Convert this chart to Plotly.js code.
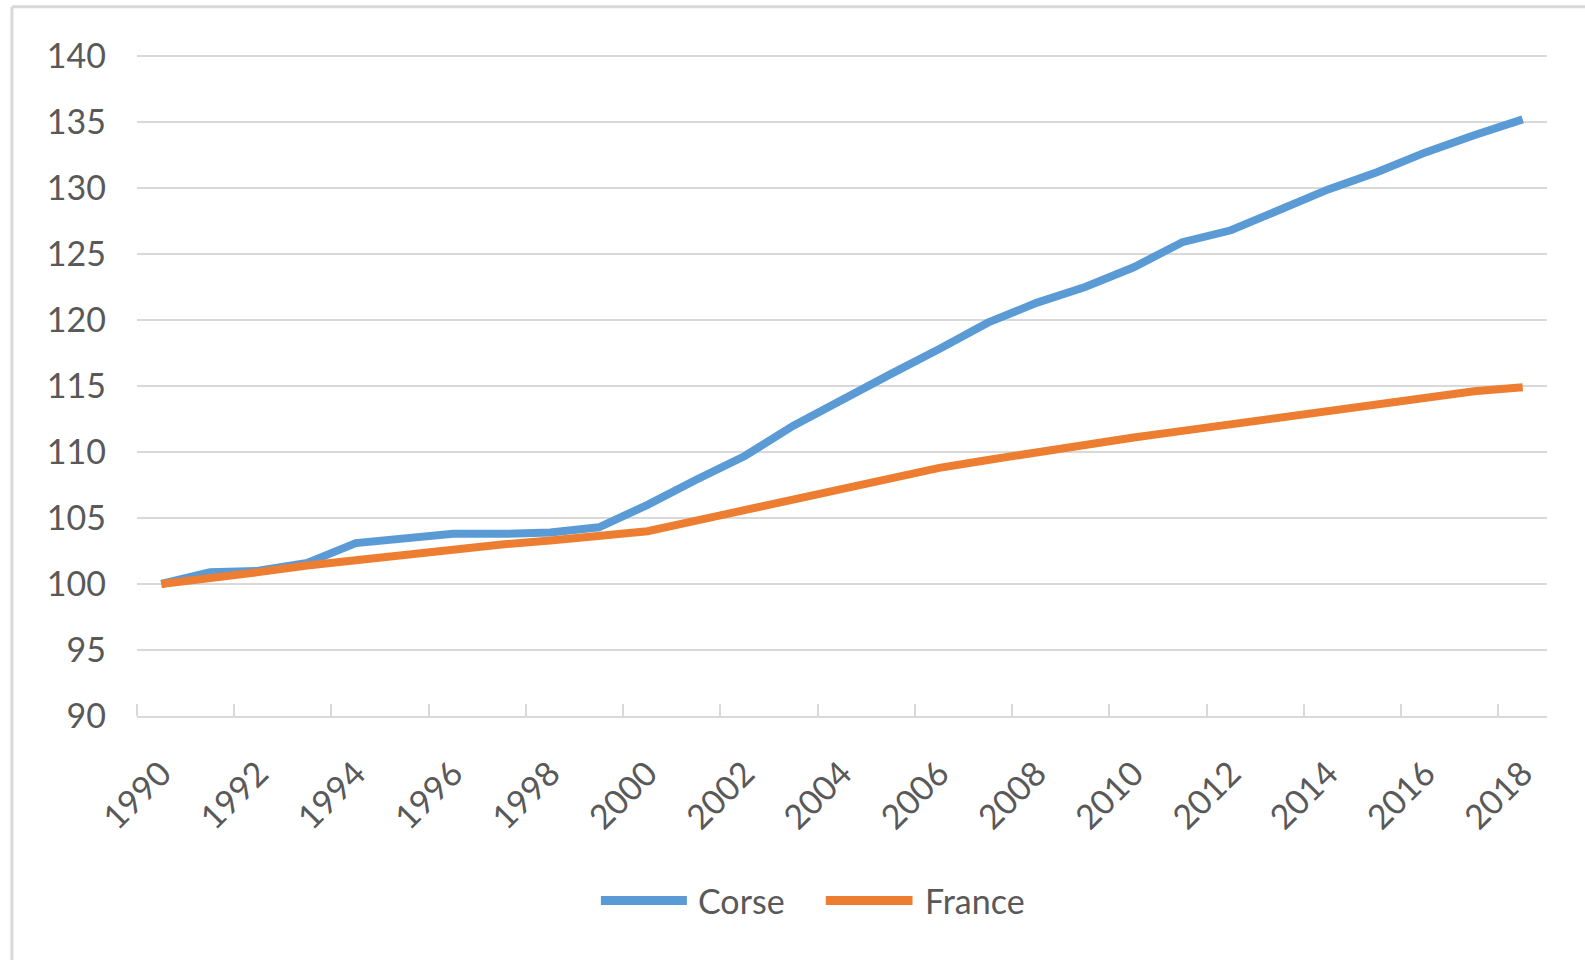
<!DOCTYPE html>
<html>
<head>
<meta charset="utf-8">
<script src="https://cdn.plot.ly/plotly-3.0.1.min.js"></script>
<style>
  html, body { margin: 0; padding: 0; background: #ffffff; }
  #chart { width: 1585px; height: 960px; }
</style>
</head>
<body>
<div id="chart"></div>
<script>
// ---- data ----
const years = [1990, 1991, 1992, 1993, 1994, 1995, 1996, 1997, 1998, 1999,
               2000, 2001, 2002, 2003, 2004, 2005, 2006, 2007, 2008, 2009,
               2010, 2011, 2012, 2013, 2014, 2015, 2016, 2017, 2018];
const corse = [100.0, 100.9, 101.0, 101.6, 103.1, 103.5, 103.8, 103.8, 103.9, 104.3,
               106.0, 107.9, 109.7, 112.0, 114.0, 115.9, 117.8, 119.8, 121.3, 122.5,
               124.0, 125.9, 126.8, 128.3, 129.9, 131.2, 132.7, 134.0, 135.2];
const france = [100.0, 100.4, 100.9, 101.4, 101.8, 102.3, 102.7, 103.0, 103.3, 103.6,
                104.0, 104.8, 105.6, 106.3, 107.1, 108.0, 108.8, 109.4, 110.0, 110.5,
                111.1, 111.6, 112.1, 112.6, 113.1, 113.6, 114.1, 114.6, 114.9];
const seriesNames = ["Corse", "France"];
const yTicks = [90, 95, 100, 105, 110, 115, 120, 125, 130, 135, 140];
const xTickYears = [1990, 1992, 1994, 1996, 1998, 2000, 2002, 2004, 2006, 2008,
                    2010, 2012, 2014, 2016, 2018];

const BLUE = "#5B9BD5";
const ORANGE = "#ED7D31";
const GRID = "#d9d9d9";
const TEXT = "#595959";
const FONT = "Lato, 'Open Sans', sans-serif";

const traces = [
  { x: years, y: corse, name: seriesNames[0], type: "scatter", mode: "lines",
    line: { color: BLUE, width: 8 }, showlegend: false, hoverinfo: "x+y+name" },
  { x: years, y: france, name: seriesNames[1], type: "scatter", mode: "lines",
    line: { color: ORANGE, width: 8 }, showlegend: false, hoverinfo: "x+y+name" }
];

// custom legend (long Excel-style line keys)
const legY = -0.279;
const shapes = [
  // outer chart border (left and top)
  { type: "line", xref: "paper", yref: "paper", x0: -0.0887, x1: -0.0887, y0: 1.073, y1: -0.5,
    line: { color: GRID, width: 3 } },
  { type: "line", xref: "paper", yref: "paper", x0: -0.0887, x1: 1.2, y0: 1.073, y1: 1.073,
    line: { color: GRID, width: 3 } },
  // legend keys
  { type: "line", xref: "paper", yref: "paper", x0: 0.3290, x1: 0.3900, y0: legY, y1: legY,
    line: { color: BLUE, width: 9 } },
  { type: "line", xref: "paper", yref: "paper", x0: 0.4885, x1: 0.5500, y0: legY, y1: legY,
    line: { color: ORANGE, width: 9 } }
];
const annotations = [
  { xref: "paper", yref: "paper", x: 0.3965, y: legY, xanchor: "left", yanchor: "middle",
    text: seriesNames[0], showarrow: false, font: { family: FONT, size: 34, color: TEXT } },
  { xref: "paper", yref: "paper", x: 0.5575, y: legY, xanchor: "left", yanchor: "middle",
    text: seriesNames[1], showarrow: false, font: { family: FONT, size: 34, color: TEXT } }
];

const layout = {
  width: 1585, height: 960,
  margin: { l: 137, r: 38, t: 55, b: 244 },
  paper_bgcolor: "#ffffff", plot_bgcolor: "#ffffff",
  font: { family: FONT, size: 34, color: TEXT },
  showlegend: false,
  xaxis: {
    type: "linear",
    range: [1989.5, 2018.5],
    tickmode: "array", tickvals: xTickYears, ticktext: xTickYears.map(String),
    tickangle: -45, ticks: "", ticklabelstandoff: 22,
    showgrid: false, zeroline: false,
    showline: true, linecolor: GRID, linewidth: 2,
    tickfont: { family: FONT, size: 34, color: TEXT },
    minor: { tickmode: "linear", tick0: 1989.5, dtick: 2, ticks: "inside",
             ticklen: 12, tickwidth: 2, tickcolor: GRID, showgrid: false },
    fixedrange: true
  },
  yaxis: {
    range: [90, 140.08],
    tickmode: "array", tickvals: yTicks,
    showgrid: true, gridcolor: GRID, gridwidth: 2,
    zeroline: false, showline: false, ticks: "",
    ticklabelstandoff: 30,
    tickfont: { family: FONT, size: 34, color: TEXT },
    fixedrange: true
  },
  shapes: shapes,
  annotations: annotations
};

Plotly.newPlot("chart", traces, layout, { displayModeBar: false, staticPlot: true });
</script>
</body>
</html>
